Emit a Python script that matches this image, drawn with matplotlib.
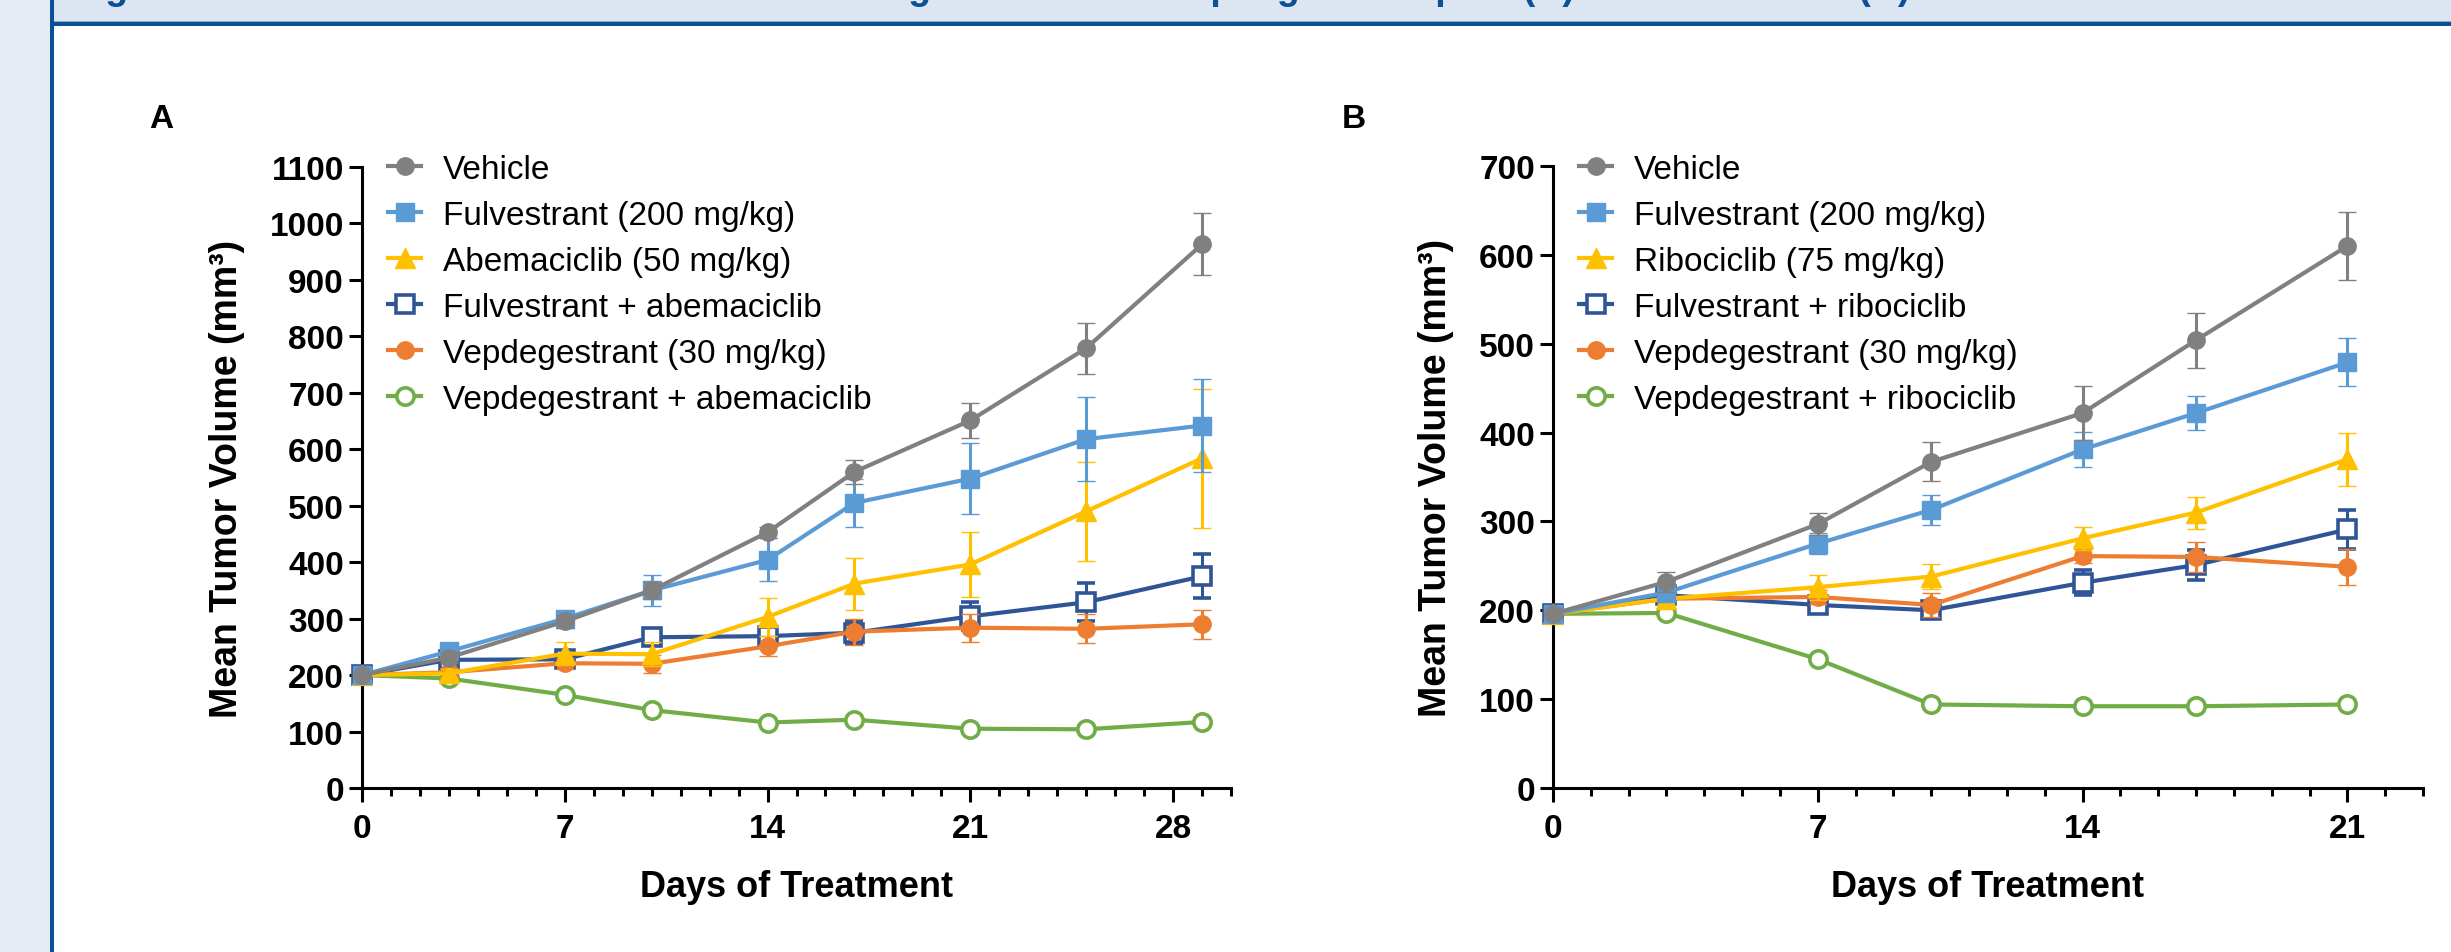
import matplotlib
matplotlib.use('Agg')
import matplotlib.pyplot as plt
from matplotlib.patches import Rectangle
from matplotlib.lines import Line2D

plt.rcParams['font.family'] = ['Liberation Sans', 'DejaVu Sans']

W, H = 2451, 953

# panel A: abemaciclib study
days_a = [0, 3, 7, 10, 14, 17, 21, 25, 29]
veh_a = [200, 231, 295, 350, 453, 560, 651, 779, 963]
veh_a_err = [6, 10, 12, 15, 10, 21, 31, 45, 55]
fulv_a = [200, 242, 300, 350, 404, 505, 548, 618, 642]
fulv_a_err = [6, 10, 12, 27, 38, 42, 63, 75, 83]
abema_a = [200, 203, 238, 237, 303, 362, 396, 490, 584]
abema_a_err = [5, 8, 20, 21, 34, 46, 57, 88, 123]
fulv_abema_a = [200, 227, 228, 267, 269, 275, 304, 329, 375]
fulv_abema_a_err = [5, 8, 10, 12, 12, 20, 25, 34, 39]
vep_a = [200, 205, 221, 220, 251, 277, 284, 282, 290]
vep_a_err = [5, 8, 10, 16, 18, 23, 25, 26, 26]
vep_abema_a = [200, 194, 165, 138, 116, 121, 105, 104, 117]
vep_abema_a_err = [3, 4, 5, 5, 5, 5, 5, 5, 5]

labels_a = ['Vehicle', 'Fulvestrant (200 mg/kg)', 'Abemaciclib (50 mg/kg)',
            'Fulvestrant + abemaciclib', 'Vepdegestrant (30 mg/kg)',
            'Vepdegestrant + abemaciclib']

# panel B: ribociclib study
days_b = [0, 3, 7, 10, 14, 17, 21]
veh_b = [196, 232, 297, 367, 422, 504, 610]
veh_b_err = [5, 11, 12, 22, 30, 31, 38]
fulv_b = [196, 220, 275, 313, 381, 422, 479]
fulv_b_err = [5, 8, 12, 17, 20, 19, 27]
ribo_b = [196, 213, 226, 238, 281, 310, 370]
ribo_b_err = [5, 7, 14, 14, 13, 18, 30]
fulv_ribo_b = [196, 217, 206, 200, 231, 251, 291]
fulv_ribo_b_err = [5, 6, 6, 6, 14, 17, 22]
vep_b = [196, 213, 215, 206, 261, 260, 249]
vep_b_err = [5, 6, 8, 14, 8, 17, 20]
vep_ribo_b = [196, 197, 145, 94, 92, 92, 94]
vep_ribo_b_err = [3, 3, 3, 3, 3, 3, 3]

labels_b = ['Vehicle', 'Fulvestrant (200 mg/kg)', 'Ribociclib (75 mg/kg)',
            'Fulvestrant + ribociclib', 'Vepdegestrant (30 mg/kg)',
            'Vepdegestrant + ribociclib']

# banner title, only its lower edge shows in the crop
title = ('Figure 5. Antitumor activities in the MCF7 xenograft model of '
         'vepdegestrant plus (A) abemaciclib or (B) ribociclib')

# color, marker, face, zorder  (vehicle drawn on top)
styles = [
    ('#808080', 'o', '#808080', 16),
    ('#5b9bd5', 's', '#5b9bd5', 15),
    ('#ffc000', '^', '#ffc000', 14),
    ('#2f5597', 's', 'white', 12),
    ('#ed7d31', 'o', '#ed7d31', 13),
    ('#70ad47', 'o', 'white', 11),
]


def draw_panel(ax, days, series, errs, labels, xmax, ymax, ystep, legend_x):
    for (c, m, fc, z), y, e in zip(styles, series, errs):
        ms = 14 if m == '^' else 12.5
        mew = 2.6 if fc == 'white' else 1
        ax.errorbar(days, y, yerr=e, color=c, lw=3, marker=m, ms=ms,
                    mfc=fc, mec=c, mew=mew, elinewidth=2.2, capsize=6.5,
                    capthick=2.2, zorder=z, clip_on=False)
    ax.set_xlim(0, xmax)
    ax.set_ylim(0, ymax)
    ax.set_xticks(range(0, xmax + 1, 7))
    ax.set_xticks(range(0, xmax + 1), minor=True)
    ax.set_yticks(range(0, ymax + 1, ystep))
    for s in ['top', 'right']:
        ax.spines[s].set_visible(False)
    for s in ['left', 'bottom']:
        ax.spines[s].set_linewidth(2.2)
    ax.tick_params(axis='x', which='major', length=10, width=2.2, pad=8,
                   labelsize=24)
    ax.tick_params(axis='x', which='minor', length=5.5, width=2.2)
    ax.tick_params(axis='y', which='major', length=9.5, width=2.2, pad=3.5,
                   labelsize=24)
    for t in ax.get_xticklabels() + ax.get_yticklabels():
        t.set_fontweight('bold')
    ax.set_xlabel('Days of Treatment', fontsize=26, fontweight='bold',
                  labelpad=18)
    ax.set_ylabel('Mean Tumor Volume (mm³)', fontsize=27, fontweight='bold',
                  labelpad=18)

    handles = [Line2D([], [], color=c, lw=3, marker=m,
                      ms=(14 if m == '^' else 12.5), mfc=fc, mec=c,
                      mew=(2.6 if fc == 'white' else 1))
               for c, m, fc, z in styles]
    ax.legend(handles, labels, loc='upper left',
              bbox_to_anchor=(legend_x / W, 1 - 155 / H),
              bbox_transform=ax.figure.transFigure, frameon=False,
              fontsize=24, handlelength=1.0, handletextpad=0.65,
              labelspacing=0.45, borderpad=0, borderaxespad=0)


fig = plt.figure(figsize=(W / 100, H / 100), dpi=100)

# poster frame
fig.add_artist(Rectangle((0, 0), 50 / W, 1, transform=fig.transFigure,
                         color='#e4ebf4', lw=0))
fig.add_artist(Rectangle((54 / W, 1 - 22 / H), 1, 22 / H,
                         transform=fig.transFigure, color='#dce6f2', lw=0))
fig.add_artist(Rectangle((50 / W, 0), 4 / W, 1, transform=fig.transFigure,
                         color='#0c5097', lw=0))
fig.add_artist(Rectangle((50 / W, 1 - 27 / H), 1, 4 / H,
                         transform=fig.transFigure, color='#0c5097', lw=0))
fig.add_artist(Rectangle((54 / W, 1 - 23 / H), 1, 1 / H,
                         transform=fig.transFigure, color='#8eaad0', lw=0))
fig.text(72 / W, 1 + 1 / H, title, fontsize=27, fontweight='bold',
         color='#0c5097', va='baseline', ha='left')

axA = fig.add_axes([362 / W, (H - 789) / H, (1231 - 362) / W, (789 - 168) / H])
draw_panel(axA, days_a,
           [veh_a, fulv_a, abema_a, fulv_abema_a, vep_a, vep_abema_a],
           [veh_a_err, fulv_a_err, abema_a_err, fulv_abema_a_err, vep_a_err,
            vep_abema_a_err],
           labels_a, 30, 1100, 100, 388)

axB = fig.add_axes([1553 / W, (H - 789) / H, (2423 - 1553) / W, (789 - 167) / H])
draw_panel(axB, days_b,
           [veh_b, fulv_b, ribo_b, fulv_ribo_b, vep_b, vep_ribo_b],
           [veh_b_err, fulv_b_err, ribo_b_err, fulv_ribo_b_err, vep_b_err,
            vep_ribo_b_err],
           labels_b, 23, 700, 100, 1579)

fig.text(161 / W, 1 - 120 / H, 'A', fontsize=24, fontweight='bold',
         ha='center', va='center')
fig.text(1354 / W, 1 - 120 / H, 'B', fontsize=24, fontweight='bold',
         ha='center', va='center')

fig.savefig('out.png', dpi=100)
